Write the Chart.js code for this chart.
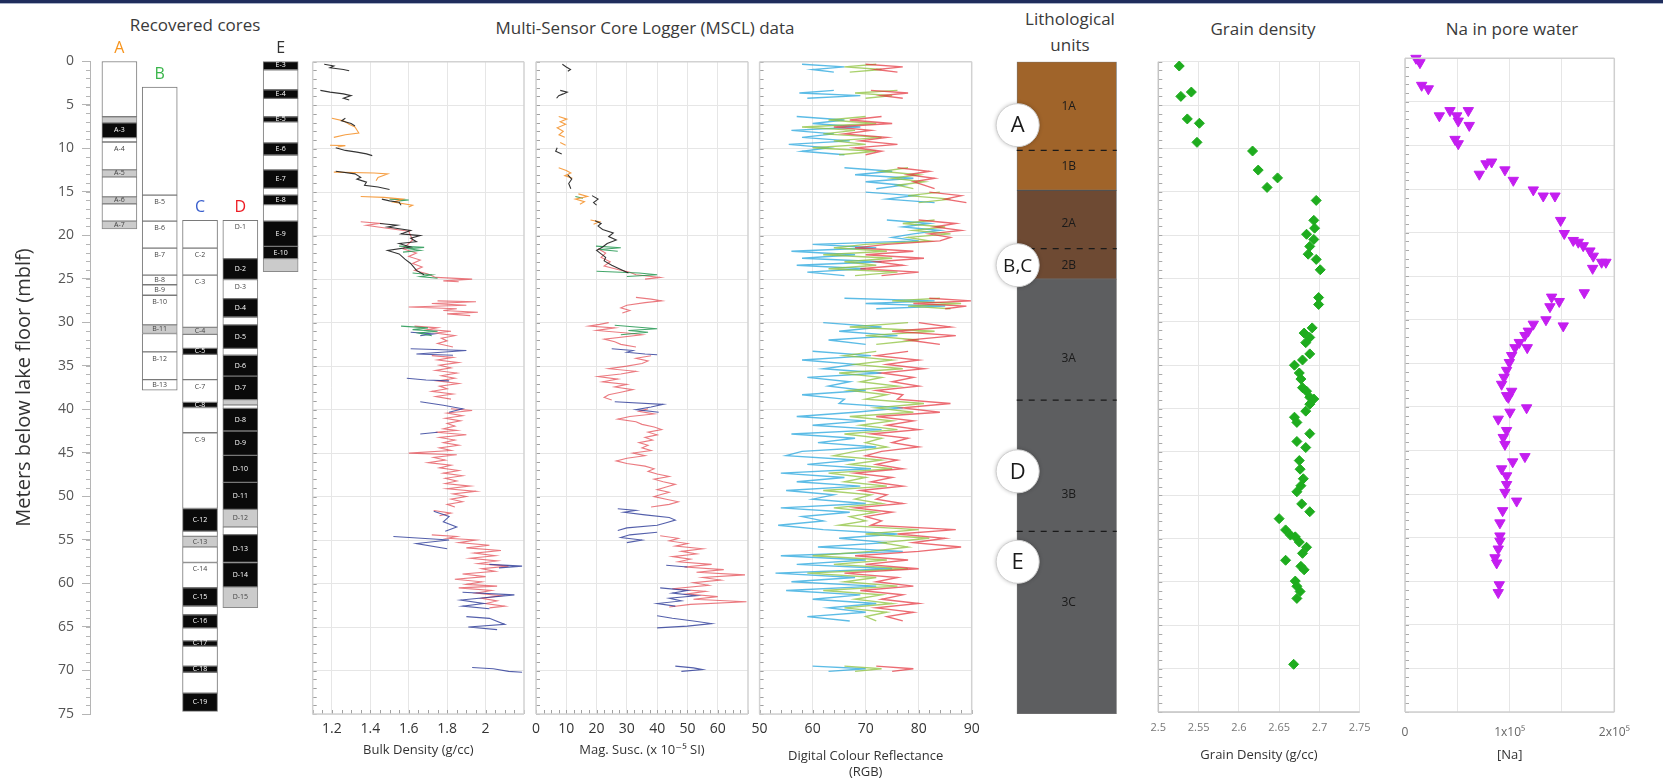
<!DOCTYPE html>
<html>
<head>
<meta charset="utf-8">
<title>Core logs</title>
<script src="https://cdn.jsdelivr.net/npm/chart.js@4.4.1/dist/chart.umd.min.js"></script>
<style>
  html, body { margin: 0; padding: 0; background: #fff; }
  body { width: 1663px; height: 780px; position: relative; overflow: hidden; font-family: 'Open Sans', 'DejaVu Sans', sans-serif; }
  canvas { position: absolute; top: 0; }
  .topbar { position: absolute; left: 0; top: 0; width: 100%; height: 3px; background: #1f2d5c; border-bottom: 1px solid #aab3c9; }
  .panel-title { position: absolute; transform: translate(-50%, -50%); font-size: 17px; color: #3a3a3a; white-space: nowrap; text-align: center; line-height: 26px; }
</style>
</head>
<body>
<div class="topbar"></div>
<div class="panel-title" style="left:195px; top:25px">Recovered cores</div>
<div class="panel-title" style="left:645px; top:28px">Multi-Sensor Core Logger (MSCL) data</div>
<div class="panel-title" style="left:1070px; top:32px">Lithological<br>units</div>
<div class="panel-title" style="left:1263px; top:29px">Grain density</div>
<div class="panel-title" style="left:1512px; top:29px">Na in pore water</div>

<canvas id="coresChart" width="310" height="780" style="left:0px"></canvas>
<canvas id="bulkChart" width="250" height="780" style="left:290px"></canvas>
<canvas id="magChart" width="245" height="780" style="left:520px"></canvas>
<canvas id="colourChart" width="245" height="780" style="left:745px"></canvas>
<canvas id="lithoChart" width="140" height="780" style="left:985px"></canvas>
<canvas id="grainChart" width="245" height="780" style="left:1135px"></canvas>
<canvas id="naChart" width="270" height="780" style="left:1385px"></canvas>

<script>
// ---- depth axis (m below lake floor) ----
const depthTicks = [0, 5, 10, 15, 20, 25, 30, 35, 40, 45, 50, 55, 60, 65, 70, 75];

// ---- recovered cores: [top, bottom, kind (w = white, g = grey, k = black), section] ----
const coreNames = ['A', 'B', 'C', 'D', 'E'];
const coreA = [
    [0, 6.4, 'w', ''], [6.4, 7.1, 'g', ''], [7.1, 8.8, 'k', 'A-3'], [8.8, 9.3, 'w', ''],
    [9.3, 12.5, 'w', 'A-4'], [12.5, 13.3, 'g', 'A-5'], [13.3, 15.6, 'w', ''], [15.6, 16.4, 'g', 'A-6'],
    [16.4, 18.4, 'w', ''], [18.4, 19.3, 'g', 'A-7']
];
const coreB = [
    [3.0, 15.4, 'w', ''], [15.4, 18.4, 'w', 'B-5'], [18.4, 21.5, 'w', 'B-6'], [21.5, 24.6, 'w', 'B-7'],
    [24.6, 25.7, 'w', 'B-8'], [25.7, 26.9, 'w', 'B-9'], [26.9, 30.3, 'w', 'B-10'], [30.3, 31.3, 'g', 'B-11'],
    [31.3, 33.4, 'w', ''], [33.4, 36.6, 'w', 'B-12'], [36.6, 37.8, 'w', 'B-13']
];
const coreC = [
    [18.3, 21.5, 'w', ''], [21.5, 24.6, 'w', 'C-2'], [24.6, 30.6, 'w', 'C-3'], [30.6, 31.4, 'g', 'C-4'],
    [31.4, 33.0, 'w', ''], [33.0, 33.7, 'k', 'C-5'], [33.7, 36.6, 'w', ''], [36.6, 39.2, 'w', 'C-7'],
    [39.2, 39.8, 'k', 'C-8'], [39.8, 42.7, 'w', ''], [42.7, 51.4, 'w', 'C-9'], [51.4, 54.0, 'k', 'C-12'],
    [54.0, 54.6, 'w', ''], [54.6, 55.8, 'g', 'C-13'], [55.8, 57.6, 'w', ''], [57.6, 60.5, 'w', 'C-14'],
    [60.5, 62.6, 'k', 'C-15'], [62.6, 63.6, 'w', ''], [63.6, 65.1, 'k', 'C-16'], [65.1, 66.6, 'w', ''],
    [66.6, 67.2, 'k', 'C-17'], [67.2, 69.5, 'w', ''], [69.5, 70.2, 'k', 'C-18'], [70.2, 72.6, 'w', ''],
    [72.6, 74.7, 'k', 'C-19']
];
const coreD = [
    [18.3, 22.7, 'w', 'D-1'], [22.7, 25.1, 'k', 'D-2'], [25.1, 27.3, 'w', 'D-3'], [27.3, 29.4, 'k', 'D-4'],
    [29.4, 30.3, 'w', ''], [30.3, 33.0, 'k', 'D-5'], [33.0, 33.8, 'w', ''], [33.8, 36.2, 'k', 'D-6'],
    [36.2, 38.9, 'k', 'D-7'], [38.9, 39.5, 'g', ''], [39.5, 39.9, 'w', ''], [39.9, 42.5, 'k', 'D-8'],
    [42.5, 45.3, 'k', 'D-9'], [45.3, 48.4, 'k', 'D-10'], [48.4, 51.5, 'k', 'D-11'], [51.5, 53.5, 'g', 'D-12'],
    [53.5, 54.4, 'w', ''], [54.4, 57.6, 'k', 'D-13'], [57.6, 60.4, 'k', 'D-14'], [60.4, 62.8, 'g', 'D-15']
];
const coreE = [
    [0, 1.0, 'k', 'E-3'], [1.0, 3.3, 'w', ''], [3.3, 4.3, 'k', 'E-4'], [4.3, 6.4, 'w', ''],
    [6.4, 7.0, 'k', 'E-5'], [7.0, 9.4, 'w', ''], [9.4, 10.8, 'k', 'E-6'], [10.8, 12.5, 'w', ''],
    [12.5, 14.6, 'k', 'E-7'], [14.6, 15.4, 'w', ''], [15.4, 16.5, 'k', 'E-8'], [16.5, 18.4, 'w', ''],
    [18.4, 21.3, 'k', 'E-9'], [21.3, 22.7, 'k', 'E-10'], [22.7, 24.2, 'g', '']
];
const coreSections = [coreA, coreB, coreC, coreD, coreE];

// ---- MSCL bulk density (g/cc): [depth, value], null = gap between sections ----
const bdTicks = [1.2, 1.4, 1.6, 1.8, 2];
const bdTickLabels = ['1.2', '1.4', '1.6', '1.8', '2'];
const bulkE = [
    [0.3, 1.16], [0.5, 1.21], [0.7, 1.19], [0.9, 1.26], [1.05, 1.29], null,
    [3.3, 1.14], [3.5, 1.19], [3.7, 1.26], [3.9, 1.3], [4.2, 1.26], [4.4, 1.29], null,
    [6.5, 1.27], [6.8, 1.25], [7.1, 1.3], [7.4, 1.32], null,
    [9.9, 1.22], [10.2, 1.27], [10.4, 1.33], [10.6, 1.38], [10.8, 1.41], null,
    [12.6, 1.22], [12.9, 1.32], [13.3, 1.35], [13.5, 1.33], [13.85, 1.38], [14.2, 1.37], [14.4, 1.44], [14.7, 1.5], null,
    [15.8, 1.46], [16.0, 1.5], [16.15, 1.55], [16.5, 1.56], null,
    [18.6, 1.45], [18.8, 1.54], [19.0, 1.49], [19.4, 1.61], [19.8, 1.56], [20.0, 1.66], [20.3, 1.61], [20.7, 1.64],
    [20.9, 1.55], [21.3, 1.61], [21.7, 1.49], [22.1, 1.55], [22.7, 1.58], [23.2, 1.61], [24.0, 1.64], [24.5, 1.68]
];
const bulkA = [
    [6.5, 1.2], [6.8, 1.26], [7.2, 1.29], [7.5, 1.32], [8.2, 1.34], [8.4, 1.27], [8.7, 1.21], null,
    [9.6, 1.19], [9.65, 1.27], [9.8, 1.23], null,
    [12.7, 1.21], [12.8, 1.42], [12.9, 1.49], [13.3, 1.44], [13.7, 1.43], null,
    [15.5, 1.35], [15.6, 1.47], [15.8, 1.57], [16.15, 1.52], [16.5, 1.62], [16.7, 1.6]
];
const bulkB = [
    [15.8, 1.5], [15.9, 1.6], [16.0, 1.55], null,
    [21.2, 1.55], [21.35, 1.68], [21.5, 1.6], [21.7, 1.66], [21.9, 1.57], null,
    [24.3, 1.62], [24.5, 1.72], [24.7, 1.66], [24.9, 1.75], null,
    [30.4, 1.56], [30.6, 1.7], [30.8, 1.62], [31.0, 1.75], [31.2, 1.65], [31.5, 1.72]
];
const bulkC = [
    [31.1, 1.61], [31.3, 1.73], [31.5, 1.66], null,
    [33.0, 1.61], [33.2, 1.9], [33.6, 1.64], [33.75, 1.83], null,
    [36.4, 1.59], [36.6, 1.69], [36.7, 1.81], null,
    [39.1, 1.66], [39.5, 1.78], [39.9, 1.88], [40.3, 1.81], null,
    [42.6, 1.75], [42.8, 1.66], null,
    [51.7, 1.73], [52.3, 1.81], [52.9, 1.78], [53.5, 1.85], [54.0, 1.79], null,
    [54.6, 1.52], [55.0, 1.81], [55.4, 1.64], [56.0, 1.8], null,
    [57.8, 2.02], [58.0, 2.19], [58.2, 2.07], null,
    [61.0, 1.88], [61.3, 2.15], [61.9, 1.87], [62.3, 1.99], [62.6, 1.88], [62.9, 2.02], null,
    [63.8, 1.9], [64.0, 2.02], [64.7, 2.1], [65.0, 1.91], [65.3, 2.06], null,
    [69.65, 1.93], [69.8, 2.04], [70.1, 2.12], [70.2, 2.19]
];
const bulkD = [
    [18.4, 1.35], [18.6, 1.45], [18.8, 1.38], [19.0, 1.44], [19.5, 1.6], [20.5, 1.62], [21.5, 1.57], [22.0, 1.64],
    [22.4, 1.6], [22.8, 1.66], [23.2, 1.62], [23.6, 1.67], [24.0, 1.63], [24.4, 1.7], [24.8, 1.74], [25.0, 1.93],
    [25.2, 1.78], [25.3, 1.86], null,
    [27.5, 1.75], [27.6, 1.95], [27.8, 1.72], [28.0, 1.9], [28.2, 1.6], [28.4, 1.85], [28.6, 1.78], [28.8, 1.96],
    [29.0, 1.8], [29.2, 1.92], null,
    [30.4, 1.63], [30.6, 1.75], [30.8, 1.7], [31.0, 1.82], [31.2, 1.74], [31.5, 1.84], [31.8, 1.77], [32.1, 1.8],
    [32.4, 1.75], [32.8, 1.83], null,
    [33.8, 1.72], [34.0, 1.83], [34.3, 1.75], [34.6, 1.86], [34.9, 1.76], [35.2, 1.82], [35.5, 1.74], [35.8, 1.85],
    [36.1, 1.77], [36.4, 1.84], [36.7, 1.75], [37.0, 1.86], [37.3, 1.76], [37.6, 1.8], [37.9, 1.72], [38.2, 1.83],
    [38.5, 1.74], [38.8, 1.82], null,
    [39.9, 1.82], [40.1, 1.93], [40.4, 1.8], [40.7, 1.88], [41.0, 1.79], [41.3, 1.87], [41.6, 1.8], [41.9, 1.84],
    [42.2, 1.78], [42.4, 1.85], [42.6, 1.74], [42.9, 1.9], [43.2, 1.76], [43.5, 1.84], [43.8, 1.78], [44.1, 1.86],
    [44.4, 1.76], [44.7, 1.82], [45.0, 1.6], [45.2, 1.85], [45.5, 1.73], [45.8, 1.79], [46.1, 1.7], [46.4, 1.82],
    [46.7, 1.76], [47.0, 1.86], [47.3, 1.78], [47.6, 1.88], [47.9, 1.79], [48.2, 1.85], [48.5, 1.79], [48.8, 1.92],
    [49.1, 1.8], [49.4, 1.95], [49.7, 1.83], [50.0, 1.9], [50.3, 1.82], [50.6, 1.88], [50.9, 1.8], [51.2, 1.84], null,
    [51.6, 1.73], [51.9, 1.82], [52.2, 1.76], null,
    [54.4, 1.72], [54.6, 1.85], [54.8, 1.8], [55.0, 1.95], [55.3, 1.86], [55.6, 2.02], [55.9, 1.9], [56.2, 2.08],
    [56.5, 1.94], [56.8, 2.05], [57.1, 1.92], [57.4, 2.06], [57.7, 1.96], [58.0, 2.12], [58.3, 1.98], [58.6, 2.05],
    [58.9, 1.88], [59.2, 2.0], [59.5, 1.84], [59.8, 1.98], [60.1, 1.9], [60.3, 2.06], [60.5, 1.86], [60.8, 2.03],
    [61.1, 1.95], [61.4, 2.08], [61.7, 1.98], [62.0, 2.06], [62.3, 2.0], [62.6, 2.1], [62.8, 2.02]
];

// ---- MSCL magnetic susceptibility (x 10^-5 SI) ----
const msTicks = [0, 10, 20, 30, 40, 50, 60];
const msTickLabels = ['0', '10', '20', '30', '40', '50', '60'];
const magE = [
    [0.3, 8.7], [0.6, 10.0], [0.9, 11.4], [1.1, 10.5], null,
    [3.3, 8.0], [3.5, 10.3], [3.7, 9.0], [3.9, 7.5], [4.2, 6.8], null,
    [9.9, 7.0], [10.3, 6.5], [10.6, 8.5], null,
    [13.0, 10.5], [13.5, 11.8], [14.0, 10.8], [14.6, 11.5], null,
    [15.4, 18.5], [15.8, 20.5], [16.2, 19.0], [16.5, 20.0], null,
    [18.3, 19.5], [18.6, 21.5], [18.9, 20.5], [19.3, 22.0], [19.7, 25.5], [20.1, 24.0], [20.5, 26.5], [20.9, 23.5],
    [21.3, 22.0], [21.7, 20.0], [22.1, 21.5], [22.5, 23.0], [22.9, 22.5], [23.4, 25.0], [23.9, 28.0], [24.3, 30.5]
];
const magA = [
    [6.3, 7.5], [6.6, 10.2], [6.9, 8.0], [7.2, 9.8], [7.6, 7.0], [8.0, 9.0], [8.4, 7.6], [8.7, 9.5], null,
    [9.3, 8.0], [9.6, 9.8], null,
    [12.2, 7.5], [12.5, 10.0], [12.8, 11.5], [13.1, 9.5], [13.4, 12.0], null,
    [15.2, 14.0], [15.5, 17.0], [15.8, 13.0], [16.1, 16.0], [16.4, 14.5], null,
    [18.2, 18.0], [18.4, 21.0], [18.7, 19.0]
];
const magB = [
    [15.5, 13.0], [15.7, 15.5], null,
    [21.2, 19.8], [21.4, 28.0], [21.6, 21.0], [21.8, 27.0], null,
    [24.1, 20.0], [24.3, 34.0], [24.5, 40.0], [24.7, 30.0], null,
    [30.3, 26.0], [30.5, 33.0], [30.7, 40.0], [30.9, 30.5], [31.1, 37.0], [31.4, 28.0]
];
const magC = [
    [33.0, 25.0], [33.2, 32.0], [33.4, 30.0], [33.6, 36.0], [33.7, 40.0], null,
    [39.1, 26.0], [39.4, 42.0], [39.7, 38.0], [40.0, 33.0], [40.3, 40.5], null,
    [51.4, 27.0], [51.6, 33.0], [51.8, 29.0], [52.1, 36.0], [52.4, 44.0], [52.7, 46.0], [53.0, 43.0], [53.3, 40.0],
    [53.6, 30.0], [53.9, 27.0], null,
    [54.1, 40.0], [54.4, 31.0], [54.7, 28.0], [55.0, 35.0], [55.3, 30.0], null,
    [57.9, 43.0], [58.1, 50.0], null,
    [60.5, 41.0], [60.8, 50.0], [61.1, 45.0], [61.4, 53.0], [61.7, 44.0], [62.0, 48.0], [62.3, 40.0], [62.6, 46.0], null,
    [63.7, 40.0], [64.0, 45.0], [64.3, 52.0], [64.6, 58.0], [64.9, 50.0], [65.1, 40.0], null,
    [69.5, 46.0], [69.7, 52.0], [69.9, 55.0], [70.1, 48.0]
];
const magD = [
    [21.5, 20.5], [22.0, 23.0], [22.5, 21.5], [23.0, 24.5], [23.5, 22.5], [23.9, 27.0], [24.2, 31.0], [24.5, 33.0],
    [24.8, 41.0], [25.0, 36.0], null,
    [27.1, 33.0], [27.3, 38.0], [27.5, 41.5], [27.7, 36.0], [28.0, 30.0], [28.3, 28.0], [28.6, 31.0], [28.9, 28.5], null,
    [30.0, 24.0], [30.2, 21.0], [30.4, 17.5], [30.6, 26.0], [30.9, 20.0], [31.2, 30.0], [31.4, 35.0], [31.9, 22.5],
    [32.2, 26.0], [32.5, 28.0], [32.8, 33.0], null,
    [33.8, 38.0], [34.1, 33.0], [34.4, 37.0], [34.7, 35.0], [35.0, 30.0], [35.3, 24.0], [35.6, 33.0], [35.9, 28.0],
    [36.2, 20.5], [36.5, 27.0], [36.8, 22.0], [37.1, 30.0], [37.4, 26.0], [37.7, 32.0], [38.0, 28.0], [38.3, 24.0],
    [38.6, 22.5], [38.9, 25.0], null,
    [39.9, 37.0], [40.2, 34.0], [40.5, 39.0], [40.8, 31.0], [41.1, 27.0], [41.4, 33.0], [41.7, 35.0], [42.0, 39.0],
    [42.3, 41.5], [42.6, 37.0], [42.9, 40.0], [43.2, 36.0], [43.5, 38.5], [43.8, 34.0], [44.1, 37.0], [44.4, 35.0],
    [44.7, 38.0], [45.0, 32.0], [45.3, 36.0], [45.6, 30.0], [45.9, 26.5], [46.2, 30.0], [46.5, 36.0], [46.8, 39.0],
    [47.1, 37.0], [47.4, 40.0], [47.7, 44.0], [48.0, 39.0], [48.3, 42.0], [48.6, 46.0], [48.9, 43.0], [49.2, 40.0],
    [49.5, 44.0], [49.8, 41.0], [50.0, 39.0], [50.3, 43.0], [50.6, 47.0], [50.9, 44.0], [51.2, 38.0], null,
    [54.5, 41.0], [54.8, 47.0], [55.1, 44.0], [55.4, 50.0], [55.7, 46.0], [56.0, 55.0], [56.3, 48.0], [56.6, 53.0],
    [56.9, 45.0], [57.2, 51.0], [57.5, 47.0], [57.8, 58.0], [58.1, 49.0], [58.4, 62.0], [58.7, 53.0], [59.0, 69.0],
    [59.3, 55.0], [59.6, 61.0], [59.9, 52.0], [60.2, 57.0], [60.6, 45.0], [60.9, 56.0], [61.2, 50.0], [61.5, 60.0],
    [61.8, 52.0], [62.1, 69.5], [62.4, 51.0], [62.7, 44.0]
];

// ---- MSCL digital colour reflectance (RGB), one depth list shared by the three channels ----
const rgbTicks = [50, 60, 70, 80, 90];
const rgbTickLabels = ['50', '60', '70', '80', '90'];
const colourDepth = [
    0.3, 0.6, 0.9, 1.2, null,
    3.3, 3.6, 3.9, 4.2, null,
    6.3, 6.7, 7.1, 7.5, 7.9, 8.3, 8.7, 9.1, 9.5, 9.9, 10.3, 10.7, null,
    12.2, 12.6, 13.0, 13.4, 13.8, 14.2, 14.6, null,
    15.0, 15.4, 15.8, 16.2, null,
    18.2, 18.6, 19.0, 19.4, 19.8, 20.2, 20.6, 21.0, 21.4, 21.8, 22.2, 22.6, 23.0, 23.4, 23.8, 24.2, 24.6, null,
    27.2, 27.5, 27.8, 28.1, 28.4, null,
    30.0, 30.5, 31.0, 31.5, 32.0, 32.5, null,
    33.3, 33.8, 34.3, 34.8, 35.3, 35.8, 36.3, 36.8, 37.3, 37.8, 38.3, 38.8,
    39.3, 39.8, 40.3,
    40.8, 41.3, 41.8, 42.3, 42.8, 43.3, 43.8, 44.3, 44.8,
    45.3, 45.8, 46.3, 46.8, 47.3, 47.8, 48.3, 48.8, 49.3, 49.8, 50.3, 50.8, 51.3, 51.8, 52.3, 52.8, 53.3,
    53.8, 54.3, 54.8, 55.3, 55.8, 56.3,
    56.8, 57.3, 57.8, 58.3, 58.8, 59.3, 59.8, 60.3, 60.8, 61.3,
    61.8, 62.3, 62.8, 63.3, 63.8, 64.3, null,
    69.5, 69.8, 70.1
];
const colourBlue = [
    58, 66, 60, 64, null,
    64, 57.5, 69, 59, null,
    57, 66, 60, 69, 56, 64, 58, 67, 55.5, 63, 58, 66, null,
    66, 75, 68, 79, 70, 77, 72, null,
    70, 79, 74, 83, null,
    74, 82, 77, 84, 79, 75, 80, 60, 72, 56, 68, 58, 73, 57, 70, 59, 66, null,
    66, 83, 70, 85, 72, null,
    62, 73, 65, 76, 63, 70, null,
    60, 71, 58, 68, 62, 73, 59, 67, 63, 70, 58, 66,
    65, 77, 68,
    57, 70, 60, 73, 56, 68, 61, 72, 58,
    55, 68, 59, 71, 54, 66, 57, 69, 55, 64, 60, 70, 54, 67, 58, 62, 53.5,
    62, 76, 65, 74, 61, 77,
    54, 70, 57, 75, 53, 68, 56, 72, 55, 69,
    60, 72, 63, 70, 59, 67, null,
    60, 70, 63
];
const colourGreen = [
    72, 66, 73, 67, null,
    76, 68, 75, 70, null,
    70, 63, 72, 58, 68, 62, 73, 64, 70, 60, 72, 65, null,
    78, 73, 80, 75, 81, 76, 79, null,
    84, 78, 86, 80, null,
    83, 77, 85, 79, 86, 78, 82, 70, 64, 74, 62, 75, 66, 72, 63, 76, 68, null,
    84, 75, 88, 78, 86, null,
    78, 67, 83, 70, 80, 72, null,
    72, 66, 75, 68, 77, 65, 73, 69, 76, 67, 74, 70,
    81, 72, 79,
    67, 75, 69, 76, 66, 73, 70, 74, 68,
    64, 73, 67, 75, 63, 70, 66, 74, 62, 71, 68, 73, 64, 72, 67, 70, 65,
    80, 70, 82, 73, 78, 71,
    60, 74, 64, 78, 59, 72, 66, 76, 62, 73,
    68, 75, 66, 74, 70, 72, null,
    66, 73, 68
];
const colourRed = [
    70, 77, 72, 76, null,
    71, 78, 73, 77, null,
    73, 67, 75, 64, 71, 66, 74, 69, 76, 68, 73, 70, null,
    76, 82, 78, 83, 79, 81, 83, null,
    82, 88, 85, 89, null,
    80, 87, 83, 88, 82, 86, 84, 74, 68, 79, 70, 81, 72, 77, 69, 80, 73, null,
    82, 90, 79, 89, 85, null,
    80, 86, 75, 87, 78, 84, null,
    78, 72, 80, 74, 81, 73, 79, 75, 80, 72, 77, 76,
    86, 77, 84,
    72, 79, 74, 80, 71, 78, 75, 80, 73,
    70, 76, 72, 77, 68, 75, 71, 77, 69, 74, 72, 77, 68, 75, 70, 73, 71,
    87, 76, 85, 79, 88, 80,
    68, 78, 70, 80, 66, 76, 72, 79, 69, 77,
    73, 80, 72, 79, 74, 77, null,
    72, 79, 75
];

// ---- lithological units ----
const unitTop = [0, 14.8, 25];
const unitBottom = [14.8, 25, 75];
const subunitBounds = [10.2, 21.5, 38.9, 54];
const subunitNames = ['1A', '1B', '2A', '2B', '3A', '3B', '3C'];
const subunitLabelDepth = [5.2, 12.1, 18.6, 23.4, 34.1, 49.8, 62.2];
const siteNames = ['A', 'B,C', 'D', 'E'];
const siteDepth = [7.3, 23.4, 47.1, 57.5];

// ---- grain density (g/cc) ----
const gdTicks = [2.5, 2.55, 2.6, 2.65, 2.7, 2.75];
const gdTickLabels = ['2.5', '2.55', '2.6', '2.65', '2.7', '2.75'];
const grainDepth = [0.5, 3.5, 4.0, 6.6, 7.1, 9.3, 10.3, 12.5, 13.4, 14.5, 16.0, 18.3, 19.2, 19.9, 20.5, 21.3, 22.2,
    22.8, 24.0, 27.2, 28.0, 30.7, 31.3, 31.8, 32.4, 33.7, 34.4, 35.0, 35.9, 36.6, 37.6, 38.0, 38.7, 38.9, 39.5, 40.3,
    41.0, 41.6, 42.9, 43.8, 44.5, 46.0, 47.0, 48.1, 48.9, 49.6, 51.0, 51.9, 52.7, 54.0, 54.6, 54.8, 55.4, 56.0, 56.7,
    57.5, 58.2, 58.6, 59.9, 60.5, 61.1, 61.9, 69.5];
const grainValue = [2.526, 2.541, 2.528, 2.536, 2.551, 2.548, 2.617, 2.624, 2.648, 2.635, 2.696, 2.693, 2.694, 2.684,
    2.693, 2.688, 2.686, 2.696, 2.701, 2.699, 2.699, 2.691, 2.681, 2.688, 2.683, 2.688, 2.679, 2.669, 2.675, 2.677,
    2.679, 2.684, 2.688, 2.693, 2.688, 2.683, 2.669, 2.672, 2.688, 2.672, 2.683, 2.675, 2.676, 2.680, 2.677, 2.672,
    2.678, 2.688, 2.650, 2.658, 2.664, 2.670, 2.675, 2.684, 2.679, 2.658, 2.677, 2.681, 2.670, 2.672, 2.676, 2.672,
    2.668];

// ---- Na in pore water ----
const naTicks = [0, 50000, 100000, 150000, 200000];
const naTickLabels = ['0', '', '1x10\u2075', '', '2x10\u2075'];
const naDepth = [0.0, 0.5, 3.1, 3.5, 6.0, 6.0, 6.6, 6.6, 7.2, 7.7, 9.3, 9.8, 11.9, 12.1, 12.8, 13.3, 14.0, 15.1, 15.8,
    15.8, 18.6, 20.1, 20.9, 21.1, 21.5, 22.1, 22.7, 23.4, 23.4, 24.1, 26.9, 27.4, 27.9, 28.5, 30.0, 30.5, 30.7, 31.3,
    31.8, 32.6, 33.2, 33.2, 34.1, 34.9, 35.8, 36.6, 37.4, 38.2, 38.7, 38.9, 40.1, 40.6, 41.4, 42.7, 43.5, 44.3, 45.7,
    46.3, 47.1, 47.9, 48.9, 49.8, 50.8, 51.9, 53.3, 54.8, 55.4, 56.3, 57.3, 57.9, 60.4, 61.3];
const naValue = [10500, 14300, 15900, 22300, 43000, 60500, 32800, 49400, 50900, 61400, 47800, 50900, 82800, 77400,
    95500, 71000, 103500, 122600, 132100, 143300, 148700, 152200, 160800, 165600, 170300, 176700, 179900, 187900,
    192000, 179300, 171300, 140100, 147400, 138500, 134700, 122600, 151200, 117800, 114600, 109200, 105100, 116800,
    101900, 99700, 97100, 94600, 92300, 101900, 97100, 98700, 116200, 100300, 89100, 97100, 93900, 95500, 114600,
    102900, 92300, 97100, 97100, 95500, 106700, 93300, 90700, 90700, 90700, 89100, 86000, 87600, 90100, 89100];

// ==== chart setup ====
Chart.defaults.font.family = "'Open Sans', 'DejaVu Sans', sans-serif";
Chart.defaults.animation = false;
Chart.defaults.plugins.legend.display = false;
Chart.defaults.plugins.tooltip.enabled = false;

// box, left minor ticks (1 m) and bottom minor ticks
const framePlugin = {
    id: 'frame',
    afterDatasetsDraw(chart, args, opts) {
        const { ctx, chartArea: a, scales } = chart;
        const len = opts.minorLen || 4;
        ctx.save();
        ctx.lineWidth = 1;
        ctx.strokeStyle = opts.tickColor || '#9a9a9a';
        ctx.beginPath();
        if (opts.minorY) {
            const y = scales.y;
            const dir = opts.minorYOut ? -1 : 1;
            for (let d = y.min; d <= y.max + 1e-6; d += opts.minorY) {
                const py = Math.round(y.getPixelForValue(d)) + 0.5;
                ctx.moveTo(a.left, py);
                ctx.lineTo(a.left + dir * len, py);
            }
        }
        if (opts.minorX) {
            const x = scales.x;
            for (let v = x.min; v <= x.max + 1e-6; v += opts.minorX) {
                const px = Math.round(x.getPixelForValue(v)) + 0.5;
                ctx.moveTo(px, a.bottom);
                ctx.lineTo(px, a.bottom - len);
            }
        }
        ctx.stroke();
        if (opts.sides) {
            ctx.strokeStyle = opts.color || '#cfcfcf';
            ctx.lineWidth = opts.width || 1.5;
            ctx.beginPath();
            if (opts.sides.includes('top')) { ctx.moveTo(a.left, a.top); ctx.lineTo(a.right, a.top); }
            if (opts.sides.includes('right')) { ctx.moveTo(a.right, a.top); ctx.lineTo(a.right, a.bottom); }
            if (opts.sides.includes('bottom')) { ctx.moveTo(a.left, a.bottom); ctx.lineTo(a.right, a.bottom); }
            if (opts.sides.includes('left')) { ctx.moveTo(a.left, a.top); ctx.lineTo(a.left, a.bottom); }
            ctx.stroke();
        }
        ctx.restore();
    }
};

// hidden depth axis with a grid line every 5 m
function depthAxis(gridOn) {
    return {
        type: 'linear', reverse: true, min: 0, max: 75,
        afterBuildTicks: axis => { axis.ticks = depthTicks.map(value => ({ value })); },
        afterFit: axis => { axis.width = 0; },
        ticks: { display: false },
        border: { display: false },
        grid: { display: gridOn, color: '#e6e6e6', drawTicks: false }
    };
}

// bottom value axis with fixed height so the plot areas line up
function valueAxis(min, max, tickValues, tickLabels, title, fit) {
    return {
        type: 'linear', min, max,
        afterBuildTicks: axis => { axis.ticks = tickValues.map(value => ({ value })); },
        afterFit: axis => { axis.height = fit.height; },
        ticks: {
            autoSkip: false, maxRotation: 0, padding: fit.tickPad,
            color: fit.tickColor || '#333', font: { size: fit.tickSize || 14 },
            callback: (v, i) => tickLabels[i]
        },
        border: { display: false },
        grid: { color: '#e6e6e6', drawTicks: false },
        title: { display: true, text: title, color: '#333', font: { size: 13 }, padding: 0 }
    };
}

function toPoints(pairs) {
    return pairs.map(p => p ? { x: p[1], y: p[0] } : { x: null, y: null });
}

function colourPoints(values) {
    return colourDepth.map((d, i) => ({ x: d === null ? null : values[i], y: d }));
}

function traceSet(points, color, width) {
    return { data: points, borderColor: color, borderWidth: width || 1.1, pointRadius: 0, spanGaps: false, tension: 0 };
}

// ---- recovered cores ----
function coreBars(kind) {
    const out = [];
    coreSections.forEach((sections, i) => {
        sections.forEach(s => { if (s[2] === kind) out.push({ x: i, y: [s[0], s[1]] }); });
    });
    return out;
}

const coreLetterColors = ['#f7941d', '#39b54a', '#3a5fcd', '#ed1c24', '#333333'];

const coreLabelPlugin = {
    id: 'coreLabels',
    afterDatasetsDraw(chart) {
        const { ctx, scales: { x, y } } = chart;
        ctx.save();
        ctx.textAlign = 'center';
        ctx.textBaseline = 'middle';
        coreSections.forEach((sections, i) => {
            const px = x.getPixelForValue(i);
            ctx.font = '7px "Open Sans", sans-serif';
            sections.forEach(([top, bottom, kind, label]) => {
                if (!label) return;
                const d = (kind === 'w' && bottom - top > 2) ? top + 0.8 : (top + bottom) / 2;
                ctx.fillStyle = kind === 'k' ? '#ffffff' : '#444444';
                ctx.fillText(label, px, y.getPixelForValue(d));
            });
            ctx.font = '16px "Open Sans", sans-serif';
            ctx.fillStyle = coreLetterColors[i];
            ctx.fillText(coreNames[i], px, y.getPixelForValue(sections[0][0]) - 13);
        });
        ctx.restore();
    }
};

new Chart(document.getElementById('coresChart'), {
    type: 'bar',
    data: {
        datasets: [
            { data: coreBars('k'), backgroundColor: '#0a0a0a', borderColor: '#777' },
            { data: coreBars('g'), backgroundColor: '#cbcbcb', borderColor: '#8a8a8a' },
            { data: coreBars('w'), backgroundColor: '#ffffff', borderColor: '#7a7a7a' }
        ]
    },
    options: {
        responsive: false,
        layout: { padding: { left: 0, right: 10, top: 61, bottom: 66 } },
        datasets: { bar: { grouped: false, barThickness: 35, borderWidth: 1, borderSkipped: false } },
        scales: {
            x: { type: 'linear', display: false, min: -0.73, max: 4.48, offset: false },
            y: {
                type: 'linear', reverse: true, min: 0, max: 75,
                afterBuildTicks: axis => { axis.ticks = depthTicks.map(value => ({ value })); },
                afterFit: axis => { axis.width = 90; },
                ticks: { color: '#555', font: { size: 14 }, padding: 8 },
                border: { display: true, color: '#b5b5b5' },
                grid: { drawOnChartArea: false, tickLength: 8, tickColor: '#b5b5b5' },
                title: { display: true, text: 'Meters below lake floor (mblf)', color: '#333', font: { size: 20 }, padding: { top: 12, bottom: 0 } }
            }
        },
        plugins: { frame: { minorY: 1, minorYOut: true, minorLen: 4, tickColor: '#b5b5b5' } }
    },
    plugins: [coreLabelPlugin, framePlugin]
});

// ---- MSCL panels ----
const msclFit = { height: 43.8, tickPad: 6.6 };
const msclFrame = { sides: ['top', 'right', 'bottom', 'left'], color: '#d2d2d2', width: 1.5, minorY: 1, tickColor: '#a0a0a0' };

new Chart(document.getElementById('bulkChart'), {
    type: 'line',
    data: {
        datasets: [
            traceSet(toPoints(bulkE), 'rgba(30,30,30,0.9)'),
            traceSet(toPoints(bulkA), 'rgba(245,150,50,0.9)'),
            traceSet(toPoints(bulkB), 'rgba(34,150,80,0.85)'),
            traceSet(toPoints(bulkC), 'rgba(40,55,150,0.8)'),
            traceSet(toPoints(bulkD), 'rgba(225,50,60,0.65)')
        ]
    },
    options: {
        responsive: false,
        layout: { padding: { left: 22.7, right: 16, top: 61.7, bottom: 22.2 } },
        scales: {
            x: valueAxis(1.1, 2.2, bdTicks, bdTickLabels, 'Bulk Density (g/cc)', msclFit),
            y: depthAxis(true)
        },
        plugins: { frame: Object.assign({ minorX: 0.05 }, msclFrame) }
    },
    plugins: [framePlugin]
});

new Chart(document.getElementById('magChart'), {
    type: 'line',
    data: {
        datasets: [
            traceSet(toPoints(magE), 'rgba(30,30,30,0.9)'),
            traceSet(toPoints(magA), 'rgba(245,150,50,0.9)'),
            traceSet(toPoints(magB), 'rgba(34,150,80,0.85)'),
            traceSet(toPoints(magC), 'rgba(40,55,150,0.8)'),
            traceSet(toPoints(magD), 'rgba(225,50,60,0.65)')
        ]
    },
    options: {
        responsive: false,
        layout: { padding: { left: 16, right: 17, top: 61.7, bottom: 22.2 } },
        scales: {
            x: valueAxis(0, 70, msTicks, msTickLabels, 'Mag. Susc. (x 10\u207B\u2075 SI)', msclFit),
            y: depthAxis(true)
        },
        plugins: { frame: Object.assign({ minorX: 2.5 }, msclFrame) }
    },
    plugins: [framePlugin]
});

new Chart(document.getElementById('colourChart'), {
    type: 'line',
    data: {
        datasets: [
            traceSet(colourPoints(colourRed), 'rgba(228,45,55,0.7)', 1.4),
            traceSet(colourPoints(colourGreen), 'rgba(141,194,60,0.75)', 1.4),
            traceSet(colourPoints(colourBlue), 'rgba(38,166,222,0.75)', 1.4)
        ]
    },
    options: {
        responsive: false,
        layout: { padding: { left: 14.3, right: 18.3, top: 61.7, bottom: 0.2 } },
        scales: {
            x: valueAxis(50, 90, rgbTicks, rgbTickLabels, ['Digital Colour Reflectance', '(RGB)'], { height: 65.8, tickPad: 6.6 }),
            y: depthAxis(true)
        },
        plugins: { frame: Object.assign({ minorX: 2 }, msclFrame) }
    },
    plugins: [framePlugin]
});

// ---- lithological units ----
const unitColors = ['#a0642a', '#6e4a33', '#5d5e60'];

const lithoPlugin = {
    id: 'litho',
    afterDatasetsDraw(chart) {
        const { ctx, chartArea: a, scales: { y } } = chart;
        ctx.save();
        ctx.strokeStyle = '#1a1a1a';
        ctx.lineWidth = 1.2;
        ctx.setLineDash([6, 6]);
        subunitBounds.forEach(d => {
            const py = y.getPixelForValue(d);
            ctx.beginPath();
            ctx.moveTo(a.left, py);
            ctx.lineTo(a.right, py);
            ctx.stroke();
        });
        ctx.setLineDash([]);
        ctx.fillStyle = '#1a1a1a';
        ctx.font = '12px "Open Sans", sans-serif';
        ctx.textAlign = 'center';
        ctx.textBaseline = 'middle';
        subunitNames.forEach((n, i) => {
            ctx.fillText(n, (a.left + a.right) / 2 + 2, y.getPixelForValue(subunitLabelDepth[i]));
        });
        siteNames.forEach((n, i) => {
            const cx = a.left + 1;
            const cy = y.getPixelForValue(siteDepth[i]);
            ctx.save();
            ctx.shadowColor = 'rgba(0,0,0,0.3)';
            ctx.shadowBlur = 4;
            ctx.beginPath();
            ctx.arc(cx, cy, 21.5, 0, Math.PI * 2);
            ctx.fillStyle = '#ffffff';
            ctx.fill();
            ctx.restore();
            ctx.beginPath();
            ctx.arc(cx, cy, 21.5, 0, Math.PI * 2);
            ctx.strokeStyle = '#d0d0d0';
            ctx.lineWidth = 1;
            ctx.stroke();
            ctx.fillStyle = '#1a1a1a';
            ctx.font = (n.length > 1 ? '19px' : '22px') + ' "Open Sans", sans-serif';
            ctx.fillText(n, cx, cy + 1);
        });
        ctx.restore();
    }
};

new Chart(document.getElementById('lithoChart'), {
    type: 'bar',
    data: {
        labels: ['units'],
        datasets: [{
            data: unitTop.map((t, i) => ({ x: 'units', y: [t, unitBottom[i]] })),
            backgroundColor: unitColors,
            borderColor: 'rgba(0,0,0,0.55)',
            borderWidth: 1,
            borderSkipped: false,
            grouped: false,
            barPercentage: 1,
            categoryPercentage: 1
        }]
    },
    options: {
        responsive: false,
        layout: { padding: { left: 31.7, right: 8.3, top: 61.7, bottom: 66 } },
        scales: {
            x: { display: false },
            y: { type: 'linear', display: false, reverse: true, min: 0, max: 75 }
        }
    },
    plugins: [lithoPlugin]
});

// ---- grain density ----
new Chart(document.getElementById('grainChart'), {
    type: 'scatter',
    data: {
        datasets: [{
            data: grainDepth.map((d, i) => ({ x: grainValue[i], y: d })),
            pointStyle: 'rectRot', pointRadius: 5,
            backgroundColor: 'rgb(30,172,30)', borderColor: 'rgb(30,172,30)', borderWidth: 1,
            clip: false
        }]
    },
    options: {
        responsive: false,
        layout: { padding: { left: 23.3, right: 16.7, top: 61.7, bottom: 17.2 } },
        scales: {
            x: valueAxis(2.5, 2.75, gdTicks, gdTickLabels, 'Grain Density (g/cc)', { height: 50.8, tickPad: 9.4, tickSize: 11, tickColor: '#777' }),
            y: depthAxis(true)
        },
        plugins: { frame: { sides: ['left', 'bottom'], color: '#c4c4c4', width: 1.5, minorY: 1, tickColor: '#aaa' } }
    },
    plugins: [framePlugin]
});

// ---- Na in pore water ----
new Chart(document.getElementById('naChart'), {
    type: 'scatter',
    data: {
        datasets: [{
            data: naDepth.map((d, i) => ({ x: naValue[i], y: d })),
            pointStyle: 'triangle', rotation: 180, pointRadius: 6,
            backgroundColor: 'rgb(196,30,240)', borderColor: 'rgb(196,30,240)', borderWidth: 1,
            clip: false
        }]
    },
    options: {
        responsive: false,
        layout: { padding: { left: 20, right: 40.7, top: 58.3, bottom: 17.2 } },
        scales: {
            x: valueAxis(0, 200000, naTicks, naTickLabels, '[Na]', { height: 50.8, tickPad: 13.8, tickSize: 12, tickColor: '#666' }),
            y: depthAxis(true)
        },
        plugins: { frame: { sides: ['top', 'right', 'bottom', 'left'], color: '#cfcfcf', width: 1.5, minorY: 1, tickColor: '#aaa' } }
    },
    plugins: [framePlugin]
});
</script>
</body>
</html>
